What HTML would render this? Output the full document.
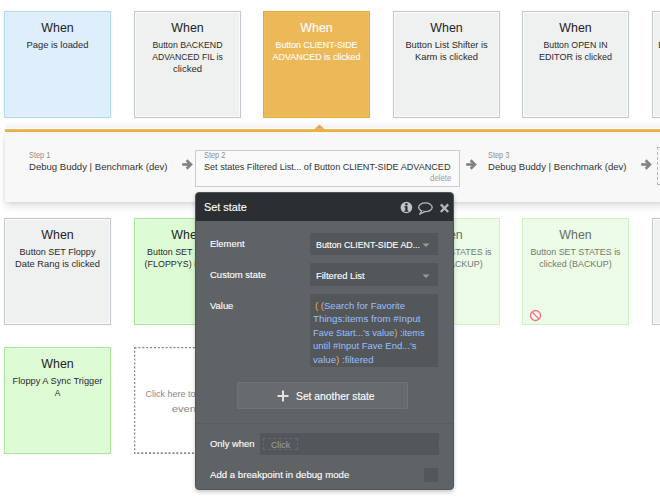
<!DOCTYPE html>
<html><head><meta charset="utf-8">
<style>
*{box-sizing:border-box;margin:0;padding:0}
html,body{width:660px;height:500px;overflow:hidden;background:#fff;font-family:"Liberation Sans",Arial,sans-serif;position:relative}
.tx{position:absolute;white-space:nowrap}
.dk{-webkit-text-stroke:0.12px currentColor}
</style></head><body>
<div style="position:absolute;left:4.0px;top:11px;width:107px;height:107px;background:#deeefc;border:1px solid #afd8fb;box-shadow:inset 0 0 0 1px #e5f2fd,0 0 2px rgba(0,0,0,.05)"></div>
<div class="tx" style="left:4.00px;width:107px;text-align:center;top:20.51px;font-size:12.1px;line-height:15px;color:#222;transform:scaleX(1.0250);transform-origin:50% 0;">When</div>
<div class="tx" style="left:-11.00px;width:137px;text-align:center;top:39.00px;font-size:9.8px;line-height:12px;color:#2a2a2a;transform:scaleX(0.9559);transform-origin:50% 0;">Page is loaded</div>
<div style="position:absolute;left:133.6px;top:11px;width:107px;height:107px;background:#eff1f0;border:1px solid #c3c8ce;box-shadow:inset 0 0 0 1px #fafafa,0 0 2px rgba(0,0,0,.06)"></div>
<div class="tx" style="left:133.60px;width:107px;text-align:center;top:20.51px;font-size:12.1px;line-height:15px;color:#222;transform:scaleX(1.0250);transform-origin:50% 0;">When</div>
<div class="tx" style="left:118.60px;width:137px;text-align:center;top:39.00px;font-size:9.8px;line-height:12px;color:#2a2a2a;transform:scaleX(0.8924);transform-origin:50% 0;">Button BACKEND</div>
<div class="tx" style="left:118.60px;width:137px;text-align:center;top:50.90px;font-size:9.8px;line-height:12px;color:#2a2a2a;transform:scaleX(0.8813);transform-origin:50% 0;">ADVANCED FIL is</div>
<div class="tx" style="left:118.60px;width:137px;text-align:center;top:62.80px;font-size:9.8px;line-height:12px;color:#2a2a2a;transform:scaleX(0.9704);transform-origin:50% 0;">clicked</div>
<div style="position:absolute;left:263.2px;top:11px;width:107px;height:107px;background:#ecb858;border:1px solid #e8aa38;box-shadow:inset 0 0 0 1px #eebd63"></div>
<div class="tx dk" style="left:263.20px;width:107px;text-align:center;top:20.51px;font-size:12.1px;line-height:15px;color:#fff;transform:scaleX(1.0250);transform-origin:50% 0;">When</div>
<div class="tx dk" style="left:248.20px;width:137px;text-align:center;top:39.00px;font-size:9.8px;line-height:12px;color:#fff;transform:scaleX(0.8952);transform-origin:50% 0;">Button CLIENT-SIDE</div>
<div class="tx dk" style="left:248.20px;width:137px;text-align:center;top:50.90px;font-size:9.8px;line-height:12px;color:#fff;transform:scaleX(0.9124);transform-origin:50% 0;">ADVANCED is clicked</div>
<div style="position:absolute;left:392.79999999999995px;top:11px;width:107px;height:107px;background:#eff1f0;border:1px solid #c3c8ce;box-shadow:inset 0 0 0 1px #fafafa,0 0 2px rgba(0,0,0,.06)"></div>
<div class="tx" style="left:392.80px;width:107px;text-align:center;top:20.51px;font-size:12.1px;line-height:15px;color:#222;transform:scaleX(1.0250);transform-origin:50% 0;">When</div>
<div class="tx" style="left:377.80px;width:137px;text-align:center;top:39.00px;font-size:9.8px;line-height:12px;color:#2a2a2a;transform:scaleX(0.9431);transform-origin:50% 0;">Button List Shifter is</div>
<div class="tx" style="left:377.80px;width:137px;text-align:center;top:50.90px;font-size:9.8px;line-height:12px;color:#2a2a2a;transform:scaleX(0.9561);transform-origin:50% 0;">Karm is clicked</div>
<div style="position:absolute;left:522.4px;top:11px;width:107px;height:107px;background:#eff1f0;border:1px solid #c3c8ce;box-shadow:inset 0 0 0 1px #fafafa,0 0 2px rgba(0,0,0,.06)"></div>
<div class="tx" style="left:522.40px;width:107px;text-align:center;top:20.51px;font-size:12.1px;line-height:15px;color:#222;transform:scaleX(1.0250);transform-origin:50% 0;">When</div>
<div class="tx" style="left:507.40px;width:137px;text-align:center;top:39.00px;font-size:9.8px;line-height:12px;color:#2a2a2a;transform:scaleX(0.8985);transform-origin:50% 0;">Button OPEN IN</div>
<div class="tx" style="left:507.40px;width:137px;text-align:center;top:50.90px;font-size:9.8px;line-height:12px;color:#2a2a2a;transform:scaleX(0.9178);transform-origin:50% 0;">EDITOR is clicked</div>
<div style="position:absolute;left:652.0px;top:11px;width:107px;height:107px;background:#eff1f0;border:1px solid #c3c8ce;box-shadow:inset 0 0 0 1px #fafafa,0 0 2px rgba(0,0,0,.06)"></div>
<div class="tx" style="left:652.00px;width:107px;text-align:center;top:20.51px;font-size:12.1px;line-height:15px;color:#222;transform:scaleX(1.0250);transform-origin:50% 0;">When</div>
<div class="tx" style="left:637.00px;width:137px;text-align:center;top:39.00px;font-size:9.8px;line-height:12px;color:#2a2a2a;transform:scaleX(0.8914);transform-origin:50% 0;">Button RESET FILTERS</div>
<div class="tx" style="left:637.00px;width:137px;text-align:center;top:50.90px;font-size:9.8px;line-height:12px;color:#2a2a2a;transform:scaleX(0.9677);transform-origin:50% 0;">is clicked</div>
<div style="position:absolute;left:4.0px;top:218px;width:107px;height:107px;background:#eff1f0;border:1px solid #c3c8ce;box-shadow:inset 0 0 0 1px #fafafa,0 0 2px rgba(0,0,0,.06)"></div>
<div class="tx" style="left:4.00px;width:107px;text-align:center;top:227.51px;font-size:12.1px;line-height:15px;color:#222;transform:scaleX(1.0250);transform-origin:50% 0;">When</div>
<div class="tx" style="left:-11.00px;width:137px;text-align:center;top:246.00px;font-size:9.8px;line-height:12px;color:#2a2a2a;transform:scaleX(0.9250);transform-origin:50% 0;">Button SET Floppy</div>
<div class="tx" style="left:-11.00px;width:137px;text-align:center;top:257.90px;font-size:9.8px;line-height:12px;color:#2a2a2a;transform:scaleX(0.9492);transform-origin:50% 0;">Date Rang is clicked</div>
<div style="position:absolute;left:133.6px;top:218px;width:107px;height:107px;background:#ddfcd5;border:1px solid #a8e49a;box-shadow:inset 0 0 0 1px #e6fde0,0 0 2px rgba(0,0,0,.05)"></div>
<div class="tx" style="left:133.60px;width:107px;text-align:center;top:227.51px;font-size:12.1px;line-height:15px;color:#222;transform:scaleX(1.0250);transform-origin:50% 0;">When</div>
<div class="tx" style="left:118.60px;width:137px;text-align:center;top:246.00px;font-size:9.8px;line-height:12px;color:#2a2a2a;transform:scaleX(0.9044);transform-origin:50% 0;">Button SET STATES</div>
<div class="tx" style="left:118.60px;width:137px;text-align:center;top:257.90px;font-size:9.8px;line-height:12px;color:#2a2a2a;transform:scaleX(0.9119);transform-origin:50% 0;">(FLOPPYS) is clicked</div>
<div style="position:absolute;left:392.79999999999995px;top:218px;width:107px;height:107px;background:#ecfce7;border:1px solid #d0f0c6"></div>
<div class="tx" style="left:392.80px;width:107px;text-align:center;top:227.51px;font-size:12.1px;line-height:15px;color:#676c67;transform:scaleX(1.0250);transform-origin:50% 0;">When</div>
<div class="tx" style="left:377.80px;width:137px;text-align:center;top:246.00px;font-size:9.8px;line-height:12px;color:#727872;transform:scaleX(0.9098);transform-origin:50% 0;">Button SET STATES is</div>
<div class="tx" style="left:377.80px;width:137px;text-align:center;top:257.90px;font-size:9.8px;line-height:12px;color:#727872;transform:scaleX(0.9093);transform-origin:50% 0;">clicked (BACKUP)</div>
<div style="position:absolute;left:522.4px;top:218px;width:107px;height:107px;background:#ecfce7;border:1px solid #d0f0c6"></div>
<div class="tx" style="left:522.40px;width:107px;text-align:center;top:227.51px;font-size:12.1px;line-height:15px;color:#676c67;transform:scaleX(1.0250);transform-origin:50% 0;">When</div>
<div class="tx" style="left:507.40px;width:137px;text-align:center;top:246.00px;font-size:9.8px;line-height:12px;color:#727872;transform:scaleX(0.9098);transform-origin:50% 0;">Button SET STATES is</div>
<div class="tx" style="left:507.40px;width:137px;text-align:center;top:257.90px;font-size:9.8px;line-height:12px;color:#727872;transform:scaleX(0.9093);transform-origin:50% 0;">clicked (BACKUP)</div>
<div style="position:absolute;left:652.0px;top:218px;width:107px;height:107px;background:#eff1f0;border:1px solid #c3c8ce;box-shadow:inset 0 0 0 1px #fafafa,0 0 2px rgba(0,0,0,.06)"></div>
<div class="tx" style="left:652.00px;width:107px;text-align:center;top:227.51px;font-size:12.1px;line-height:15px;color:#222;transform:scaleX(1.0250);transform-origin:50% 0;">When</div>
<div style="position:absolute;left:4.0px;top:347px;width:107px;height:107px;background:#ddfcd5;border:1px solid #a8e49a;box-shadow:inset 0 0 0 1px #e6fde0,0 0 2px rgba(0,0,0,.05)"></div>
<div class="tx" style="left:4.00px;width:107px;text-align:center;top:356.51px;font-size:12.1px;line-height:15px;color:#222;transform:scaleX(1.0250);transform-origin:50% 0;">When</div>
<div class="tx" style="left:-11.00px;width:137px;text-align:center;top:375.00px;font-size:9.8px;line-height:12px;color:#2a2a2a;transform:scaleX(0.9418);transform-origin:50% 0;">Floppy A Sync Trigger</div>
<div class="tx" style="left:-11.00px;width:137px;text-align:center;top:386.90px;font-size:9.8px;line-height:12px;color:#2a2a2a;transform:scaleX(0.8588);transform-origin:50% 0;">A</div>
<svg style="position:absolute;left:133.6px;top:347px" width="107" height="107"><rect x="0.4" y="0.3" width="105.6" height="105.8" fill="#fff" stroke="#8a8a8a" stroke-width="1.7" stroke-dasharray="2.1 1.8"/></svg>
<div class="tx" style="left:116.60px;width:137px;text-align:center;top:385.70px;font-size:9.8px;line-height:15px;color:#888;transform:scaleX(0.9178);transform-origin:50% 0;">Click here to add an</div>
<div class="tx" style="left:116.60px;width:137px;text-align:center;top:400.90px;font-size:9.8px;line-height:15px;color:#888;transform:scaleX(1.1471);transform-origin:50% 0;">event</div>
<svg style="position:absolute;left:529.5px;top:309.5px" width="11" height="11" overflow="visible" viewBox="0 0 11 11"><circle cx="5.5" cy="5.5" r="5" fill="#fff" stroke="#f4767b" stroke-width="1.4"/><path d="M2.1 2.1L8.9 8.9" stroke="#f4767b" stroke-width="1.4"/></svg>
<div style="position:absolute;left:4.8px;top:132px;width:660px;height:70px;background:#f8f8f8;box-shadow:0 5px 8px -1px rgba(0,0,0,.13),-1px 1px 3px rgba(0,0,0,.06)"></div>
<div style="position:absolute;left:4.8px;top:129px;width:660px;height:3px;background:linear-gradient(to bottom,#eebb5e,#e9ab3c)"></div>
<svg style="position:absolute;left:312.6px;top:124px" width="13" height="6" viewBox="0 0 13 6"><path d="M0.5 6L6.5 0.5L12.5 6Z" fill="#ecb04c"/></svg>
<div style="position:absolute;left:4.8px;top:120px;width:660px;height:8px;background:linear-gradient(to bottom,rgba(0,0,0,0),rgba(0,0,0,.045))"></div>
<div style="position:absolute;left:195.2px;top:149.9px;width:264.6px;height:36.7px;background:#fafafa;border:1px solid #c9cdd1"></div>
<div class="tx" style="left:29.00px;top:150.62px;font-size:8.3px;line-height:9px;color:#8e8e8e;transform:scaleX(0.8918);transform-origin:0 0;">Step 1</div>
<div class="tx" style="left:29.00px;top:161.20px;font-size:9.8px;line-height:12px;color:#333;transform:scaleX(0.9761);transform-origin:0 0;">Debug Buddy | Benchmark (dev)</div>
<div class="tx" style="left:204.00px;top:150.62px;font-size:8.3px;line-height:9px;color:#8e8e8e;transform:scaleX(0.8918);transform-origin:0 0;">Step 2</div>
<div class="tx" style="left:204.00px;top:161.20px;font-size:9.8px;line-height:12px;color:#333;transform:scaleX(0.9262);transform-origin:0 0;">Set states Filtered List... of Button CLIENT-SIDE ADVANCED</div>
<div class="tx" style="right:209.00px;top:173.22px;font-size:8.6px;line-height:10px;color:#9c9c9c;transform:scaleX(0.9133);transform-origin:100% 0;">delete</div>
<div class="tx" style="left:487.50px;top:150.62px;font-size:8.3px;line-height:9px;color:#8e8e8e;transform:scaleX(0.8918);transform-origin:0 0;">Step 3</div>
<div class="tx" style="left:487.50px;top:161.20px;font-size:9.8px;line-height:12px;color:#333;transform:scaleX(0.9761);transform-origin:0 0;">Debug Buddy | Benchmark (dev)</div>
<svg style="position:absolute;left:182px;top:158px" width="12" height="13" viewBox="0 0 12 13"><path d="M0.2 6.5H8.6" stroke="#838383" stroke-width="2.7"/><path d="M4.6 2.3L8.9 6.5L4.6 10.7" stroke="#838383" stroke-width="2.7" fill="none"/></svg>
<svg style="position:absolute;left:466px;top:158px" width="12" height="13" viewBox="0 0 12 13"><path d="M0.2 6.5H8.6" stroke="#838383" stroke-width="2.7"/><path d="M4.6 2.3L8.9 6.5L4.6 10.7" stroke="#838383" stroke-width="2.7" fill="none"/></svg>
<svg style="position:absolute;left:640.8px;top:158px" width="12" height="13" viewBox="0 0 12 13"><path d="M0.2 6.5H8.6" stroke="#838383" stroke-width="2.7"/><path d="M4.6 2.3L8.9 6.5L4.6 10.7" stroke="#838383" stroke-width="2.7" fill="none"/></svg>
<div style="position:absolute;left:657.3px;top:147px;width:20px;height:38px;border:1px dashed #b9b9b9"></div>
<div style="position:absolute;left:195px;top:192.2px;width:259px;height:297.4px;background:#5f6366;border:1px solid #505457;border-radius:4px;overflow:hidden;box-shadow:0 2px 4px rgba(0,0,0,.22)">
<div style="position:absolute;left:0;top:-1px;width:100%;height:28.5px;background:#2b2f32"></div>
<div style="position:absolute;left:0;top:230px;width:100%;height:1px;background:#585c5f"></div>
</div>
<div class="tx dk" style="left:204.00px;top:200.32px;font-size:10.9px;line-height:14px;color:#fff;transform:scaleX(0.9972);transform-origin:0 0;">Set state</div>
<svg style="position:absolute;left:399px;top:200px" width="54" height="16" viewBox="0 0 54 16"><circle cx="7.4" cy="7.5" r="5.8" fill="#c0c4c8"/><rect x="6.3" y="6.2" width="2.2" height="5" fill="#2b2f32"/><rect x="5.4" y="10.5" width="4" height="1.3" fill="#2b2f32"/><rect x="5.4" y="6.2" width="2.5" height="1.2" fill="#2b2f32"/><circle cx="7.4" cy="4.2" r="1.2" fill="#2b2f32"/><ellipse cx="26.4" cy="7.3" rx="6.8" ry="4.4" fill="none" stroke="#b9bcbf" stroke-width="1.3"/><path d="M22.8 10.8L20.6 14.3L25.6 11.6" fill="#2b2f32" stroke="#b9bcbf" stroke-width="1.2" stroke-linejoin="round"/><path d="M41.8 4.4L49.2 12M49.2 4.4L41.8 12" stroke="#b3b6b9" stroke-width="2.3"/></svg>
<div class="tx dk" style="left:210.00px;top:238.07px;font-size:9.9px;line-height:12px;color:#fff;transform:scaleX(0.9527);transform-origin:0 0;">Element</div>
<div class="tx dk" style="left:209.80px;top:269.07px;font-size:9.9px;line-height:12px;color:#fff;transform:scaleX(0.9619);transform-origin:0 0;">Custom state</div>
<div class="tx dk" style="left:209.80px;top:299.57px;font-size:9.9px;line-height:12px;color:#fff;transform:scaleX(0.9518);transform-origin:0 0;">Value</div>
<div style="position:absolute;left:310px;top:233.1px;width:127.8px;height:22.4px;background:#53575a"></div>
<div style="position:absolute;left:310px;top:263.1px;width:127.8px;height:22.5px;background:#53575a"></div>
<div style="position:absolute;left:310px;top:294px;width:127.8px;height:73px;background:#53575a"></div>
<div class="tx dk" style="left:316.30px;top:239.04px;font-size:9.4px;line-height:12px;color:#fff;transform:scaleX(0.9418);transform-origin:0 0;">Button CLIENT-SIDE AD...</div>
<div class="tx dk" style="left:316.30px;top:269.94px;font-size:9.4px;line-height:12px;color:#fff;transform:scaleX(1.0045);transform-origin:0 0;">Filtered List</div>
<svg style="position:absolute;left:422.3px;top:243px" width="8" height="5" viewBox="0 0 8 5"><path d="M0.5 0.5H7.5L4 4Z" fill="#9a9da0"/></svg>
<svg style="position:absolute;left:422.3px;top:273.5px" width="8" height="5" viewBox="0 0 8 5"><path d="M0.5 0.5H7.5L4 4Z" fill="#9a9da0"/></svg>
<div class="tx" style="left:315.40px;top:298.57px;font-size:9.6px;line-height:13px;color:#98bfff;transform:scaleX(0.9934);transform-origin:0 0;"><span style="color:#f0ae3c">(</span> <span style="color:#f0ae3c">(</span>Search for Favorite</div>
<div class="tx" style="left:313.40px;top:312.17px;font-size:9.6px;line-height:13px;color:#98bfff;transform:scaleX(1.0185);transform-origin:0 0;">Things:items from #Input</div>
<div class="tx" style="left:313.40px;top:325.77px;font-size:9.6px;line-height:13px;color:#98bfff;transform:scaleX(0.9621);transform-origin:0 0;">Fave Start...'s value<span style="color:#f0ae3c">)</span> :items</div>
<div class="tx" style="left:313.40px;top:339.37px;font-size:9.6px;line-height:13px;color:#98bfff;transform:scaleX(0.9833);transform-origin:0 0;">until #Input Fave End...'s</div>
<div class="tx" style="left:313.40px;top:352.97px;font-size:9.6px;line-height:13px;color:#98bfff;transform:scaleX(1.0051);transform-origin:0 0;">value<span style="color:#f0ae3c">)</span> :filtered</div>
<div style="position:absolute;left:237px;top:382px;width:171.2px;height:27px;background:#676b6e;border:1px solid #6f7376;border-radius:1px"></div>
<svg style="position:absolute;left:276.7px;top:389.9px" width="12" height="12" viewBox="0 0 12 12"><path d="M6 0.5V11.5M0.5 6H11.5" stroke="#e2e2e2" stroke-width="2"/></svg>
<div class="tx dk" style="left:296.40px;top:389.57px;font-size:10.2px;line-height:13px;color:#fff;transform:scaleX(1.0131);transform-origin:0 0;">Set another state</div>
<div class="tx dk" style="left:210.00px;top:438.37px;font-size:9.9px;line-height:12px;color:#fff;transform:scaleX(0.9557);transform-origin:0 0;">Only when</div>
<div style="position:absolute;left:260.4px;top:432.8px;width:178.2px;height:22px;background:#53575a"></div>
<div style="position:absolute;left:263px;top:437.7px;width:34.8px;height:12.8px;border:1px dashed #65696c"></div>
<div class="tx dk" style="left:270.90px;top:438.64px;font-size:9.4px;line-height:12px;color:#97999b;transform:scaleX(0.9379);transform-origin:0 0;">Click</div>
<div class="tx dk" style="left:210.00px;top:469.17px;font-size:9.9px;line-height:12px;color:#fff;transform:scaleX(0.9755);transform-origin:0 0;">Add a breakpoint in debug mode</div>
<div style="position:absolute;left:424.2px;top:468.2px;width:13.7px;height:13.5px;background:#53575a"></div>
</body></html>
